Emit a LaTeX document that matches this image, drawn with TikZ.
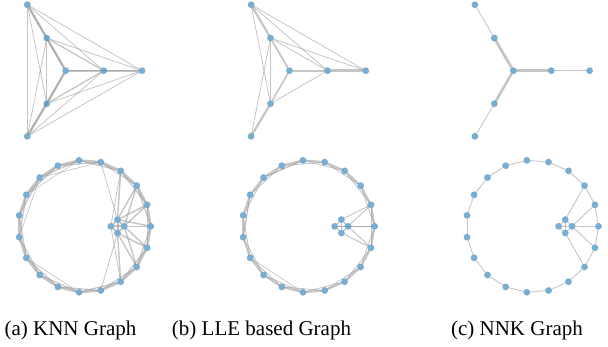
\documentclass[tikz,border=0pt]{standalone}
\usepackage{fontspec}
\setmainfont{Liberation Serif}
\usetikzlibrary{backgrounds}
\definecolor{nodeblue}{RGB}{31,119,180}
\definecolor{edgegray}{RGB}{150,150,150}
\begin{document}
\begin{tikzpicture}[x=1pt,y=-1pt,
  vtx/.style={circle,inner sep=0pt,minimum size=6.8pt,fill=nodeblue,fill opacity=0.6},
  ew/.style={draw=edgegray,line width=#1pt,draw opacity=0.55,line cap=round},
  captxt/.style={font=\fontsize{21}{25}\selectfont,anchor=base,inner sep=0pt}
]
\useasboundingbox (0,0) rectangle (608,346);
% ---------- top graphs: nodes ----------
\foreach \p/\cx in {a/65.7,b/289.5,c/513.3}{
  \node[vtx] (\p C)  at (\cx,70.7) {};
  \node[vtx] (\p R1) at (\cx+38,70.7) {};
  \node[vtx] (\p R2) at (\cx+76.3,70.7) {};
  \node[vtx] (\p U1) at (\cx-19,38) {};
  \node[vtx] (\p U2) at (\cx-38.4,4.7) {};
  \node[vtx] (\p L1) at (\cx-19,103.7) {};
  \node[vtx] (\p L2) at (\cx-38.4,136.3) {};
}
% ---------- bottom graphs: nodes ----------
\foreach \p/\cx in {a/84.5,b/308.4,c/532.3}{
  \foreach \k in {0,...,18}{
    \node[vtx] (\p\k) at ({\cx+66.2*cos(\k*360/19)},{226.3+66.2*sin(\k*360/19)}) {};
  }
  \node[vtx] (\p It) at (\cx+33,219.6) {};
  \node[vtx] (\p Il) at (\cx+26.3,226.3) {};
  \node[vtx] (\p Ir) at (\cx+39.7,226.3) {};
  \node[vtx] (\p Ib) at (\cx+33,233) {};
}
\begin{scope}[on background layer]
% ===== (a) KNN top =====
\foreach \u/\v in {C/R1,R1/R2,C/U1,U1/U2,C/L1,L1/L2}{\draw[ew=2.4] (a\u) -- (a\v);}
\foreach \u/\v in {U1/L1,U1/R1,L1/R1,C/U2,C/R2,C/L2}{\draw[ew=1.3] (a\u) -- (a\v);}
\foreach \u/\v in {U2/R1,U2/R2,U2/L1,U2/L2,U1/R2,U1/L2,L1/R2,L2/R1,L2/R2}{\draw[ew=0.8] (a\u) -- (a\v);}
% ===== (b) LLE top =====
\draw[ew=2.2] (bU2) -- (bU1);
\draw[ew=1.8] (bU1) -- (bC);
\draw[ew=2.2] (bC) -- (bR1);
\draw[ew=2.5] (bR1) -- (bR2);
\draw[ew=1.6] (bC) -- (bL1);
\draw[ew=2.2] (bL1) -- (bL2);
\foreach \u/\v in {U2/R1,U2/R2,U2/L1,U1/R1,U1/R2,U1/L1,U1/L2,L1/R1}{\draw[ew=0.8] (b\u) -- (b\v);}
% ===== (c) NNK top =====
\draw[ew=0.8] (cU2) -- (cU1);
\draw[ew=2.8] (cU1) -- (cC);
\draw[ew=2.8] (cC) -- (cR1);
\draw[ew=1.0] (cR1) -- (cR2);
\draw[ew=2.6] (cC) -- (cL1);
\draw[ew=0.8] (cL1) -- (cL2);
% ===== (a) KNN bottom =====
\foreach \k [evaluate=\k as \n using {int(mod(\k+1,19))}] in {0,...,18}{\draw[ew=2.4] (a\k) -- (a\n);}
\foreach \k [evaluate=\k as \n using {int(mod(\k+2,19))}] in {0,...,18}{\draw[ew=1.2] (a\k) -- (a\n);}
\foreach \u/\v in {It/Il,Il/Ib,Ib/Ir,Ir/It,It/Ib,Il/Ir}{\draw[ew=2.0] (a\u) -- (a\v);}
\foreach \u/\v in {It/16,It/17,It/18,Ir/17,Ir/18,Ir/0,Ir/1,Ir/2,Ib/1,Ib/2,Ib/3,It/0}{\draw[ew=1.4] (a\u) -- (a\v);}
\foreach \u/\v in {It/15,Ib/4,Il/16,Il/3}{\draw[ew=0.8] (a\u) -- (a\v);}
\foreach \u/\v in {12/9,8/5,12/15,11/14}{\draw[ew=0.7] (a\u) -- (a\v);}
% ===== (b) LLE bottom =====
\foreach \k [evaluate=\k as \n using {int(mod(\k+1,19))}] in {0,...,18}{\draw[ew=2.0] (b\k) -- (b\n);}
\foreach \k [evaluate=\k as \n using {int(mod(\k+2,19))}] in {0,...,18}{\draw[ew=0.9] (b\k) -- (b\n);}
\foreach \u/\v in {It/Il,Il/Ib,Ib/Ir,Ir/It,It/Ib,Il/Ir}{\draw[ew=1.2] (b\u) -- (b\v);}
\foreach \u/\v in {It/18,Ir/18,Ir/0,Ir/1,Ib/1,Il/0}{\draw[ew=1.0] (b\u) -- (b\v);}
\foreach \u/\v in {12/14,11/9,8/5}{\draw[ew=0.7] (b\u) -- (b\v);}
% ===== (c) NNK bottom =====
\foreach \k [evaluate=\k as \n using {int(mod(\k+1,19))}] in {0,...,18}{\draw[ew=0.9] (c\k) -- (c\n);}
\foreach \u/\v in {It/Il,Il/Ib,Ib/Ir,Ir/It,It/Ib,Il/Ir}{\draw[ew=0.9] (c\u) -- (c\v);}
\foreach \u/\v in {It/17,Ir/18,Ir/0,Ir/1,Ib/2}{\draw[ew=0.9] (c\u) -- (c\v);}
\end{scope}
% ---------- captions ----------
\node[captxt] (capa) at (70.5,335) {(a) KNN Graph};
\node[captxt] (capb) at (261.5,335) {(b) LLE based Graph};
\node[captxt] (capc) at (517,335) {(c) NNK Graph};
\end{tikzpicture}
\end{document}
